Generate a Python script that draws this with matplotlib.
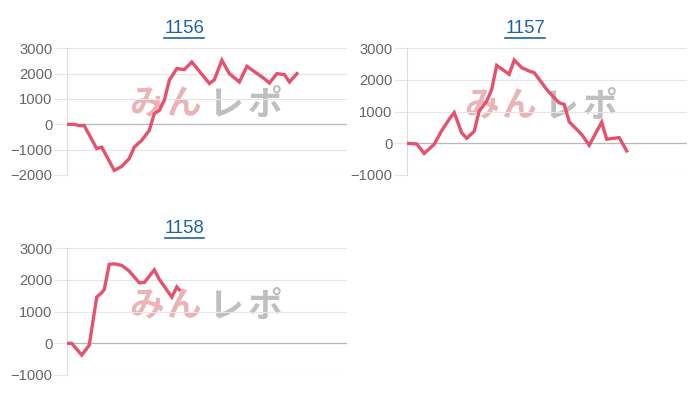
import matplotlib
matplotlib.use("Agg")
import matplotlib.pyplot as plt
from matplotlib.lines import Line2D

# ---- data ----
titles = ["1156", "1157", "1158"]

x_1156 = [0, 3, 5, 7, 12, 14, 19, 22, 25, 27, 30, 33, 35, 37, 39, 41, 44, 47, 50,
          57, 59, 62, 65, 69, 72, 79, 81, 84, 87, 89, 92]
y_1156 = [0, 0, -50, -50, -960, -900, -1820, -1660, -1350, -900, -630, -240, 420, 550,
          950, 1740, 2200, 2160, 2460, 1610, 1760, 2530, 2000, 1670, 2290, 1800, 1630,
          2000, 1960, 1670, 2000]

x_1157 = [0, 4, 7, 11, 14, 17, 19, 22, 24, 27, 29, 32, 34, 36, 41, 43, 46, 49, 51, 53,
          56, 59, 61, 63, 65, 68, 70, 73, 78, 80, 83, 85, 88]
y_1157 = [0, -20, -320, -30, 400, 760, 970, 330, 160, 380, 1020, 1330, 1700, 2460, 2180,
          2630, 2390, 2280, 2230, 2020, 1700, 1440, 1280, 1230, 680, 440, 280, -60, 670,
          130, 160, 180, -240]

x_1158 = [0, 2, 6, 9, 12, 14, 15, 17, 19, 22, 25, 29, 31, 35, 37, 42, 44, 45]
y_1158 = [0, 0, -370, -60, 1460, 1600, 1700, 2490, 2510, 2460, 2280, 1910, 1920, 2320,
          2020, 1460, 1780, 1690]

series_x = [x_1156, x_1157, x_1158]
series_y = [y_1156, y_1157, y_1158]
y_ranges = [(-2000, 3000), (-1000, 3000), (-1000, 3000)]
x_span = 112
watermark_chars = ["み", "ん", "レ", "ポ"]

# ---- style ----
W, H = 700, 400
LINE = "#e6516d"
GRID = "#e6e6e6"
ZERO = "#b8b8b8"
TICK_TXT = "#666666"
TITLE = "#1f62a8"
FONT = ["Liberation Sans", "DejaVu Sans"]
CJK = ["Noto Sans CJK JP", "DejaVu Sans"]
WM_COLORS = ["#eab3b7", "#eab3b7", "#bfbfbf", "#bfbfbf"]
WM_OFFSETS = [-60, -24, 19, 58]

fig = plt.figure(figsize=(W / 100, H / 100), dpi=100)

# axes boxes in pixels: (left, top, right, bottom)
boxes = [(66.7, 48.3, 347.0, 175.0),
         (406.7, 48.3, 686.7, 175.0),
         (66.7, 248.3, 347.0, 375.0)]
title_pos = [(184.3, 32.7), (525.3, 32.7), (184.5, 232.5)]
wm_center = [(207, 104), (542, 106), (207, 306)]

title_texts = []
for i in range(3):
    l, t, r, b = boxes[i]
    ax = fig.add_axes([l / W, 1 - b / H, (r - l) / W, (b - t) / H])
    lo, hi = y_ranges[i]
    ax.set_ylim(lo, hi)
    ax.set_xlim(0, x_span)
    ax.set_yticks(list(range(lo, hi + 1, 1000)))
    ax.set_xticks([])
    for s in ["top", "right", "bottom"]:
        ax.spines[s].set_visible(False)
    ax.spines["left"].set_color("#dddddd")
    ax.spines["left"].set_linewidth(0.8)
    ax.yaxis.grid(True, color=GRID, linewidth=0.8)
    ax.set_axisbelow(True)
    ax.tick_params(axis="y", length=9.5, width=0.8, color=GRID, pad=0.8,
                   labelsize=10.6, labelcolor=TICK_TXT)
    for lab in ax.get_yticklabels():
        lab.set_family(FONT)
    ax.axhline(0, color=ZERO, linewidth=0.9, zorder=1)

    # watermark
    cx, cy = wm_center[i]
    for ch, col, dx in zip(watermark_chars, WM_COLORS, WM_OFFSETS):
        ax.text((cx + dx) / W, 1 - cy / H, ch, transform=fig.transFigure,
                ha="center", va="center", fontsize=25, fontweight="bold",
                family=CJK, color=col, zorder=0.5)

    ax.plot(series_x[i], series_y[i], color=LINE, linewidth=2.4,
            solid_joinstyle="miter", zorder=3)

    tx, ty = title_pos[i]
    tt = fig.text(tx / W, 1 - ty / H, titles[i], ha="center", va="baseline",
                  fontsize=13.3, color=TITLE, family=FONT)
    title_texts.append(tt)

fig.canvas.draw()
renderer = fig.canvas.get_renderer()
for tt in title_texts:
    bb = tt.get_window_extent(renderer)
    ybase = bb.y0 + 0.5
    fig.add_artist(Line2D([bb.x0 / W, bb.x1 / W], [ybase / H - 0.004, ybase / H - 0.004],
                          transform=fig.transFigure, color=TITLE, linewidth=1.2))

fig.savefig("out.png", dpi=100, facecolor="white")
